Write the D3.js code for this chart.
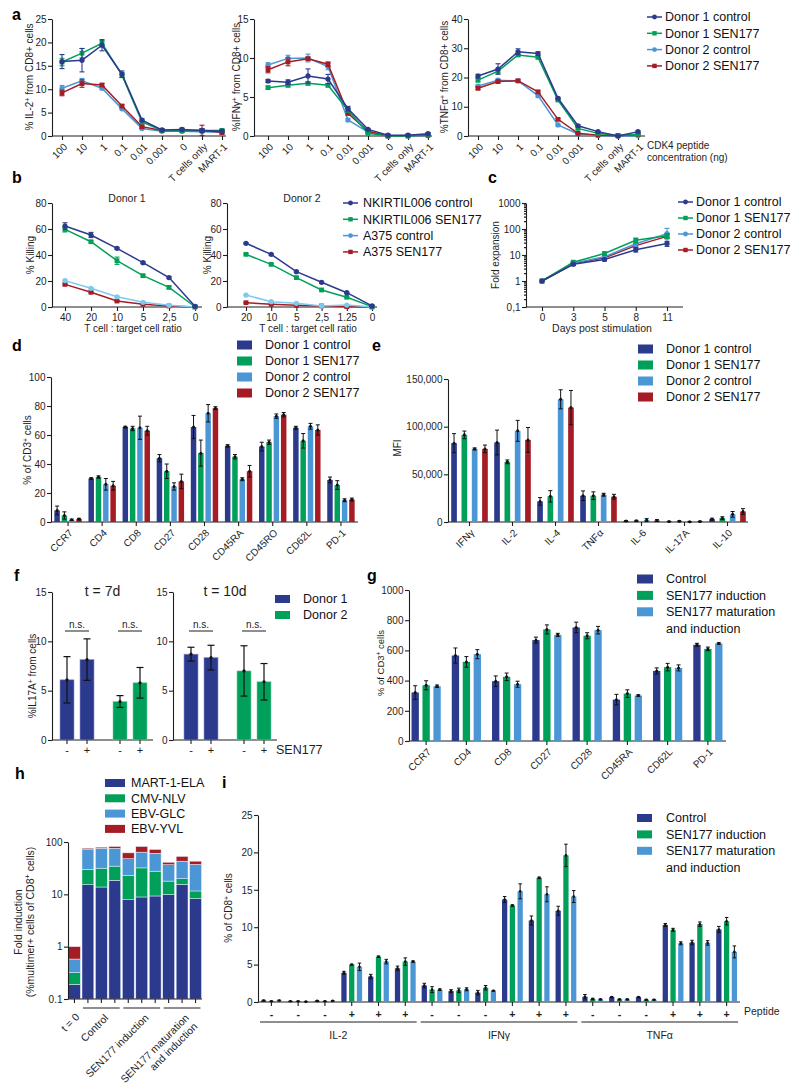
<!DOCTYPE html>
<html><head><meta charset="utf-8">
<script src="https://cdn.jsdelivr.net/npm/d3@7"></script>
<style>body{margin:0;background:#fff;}svg{display:block;}</style>
</head><body>
<svg id="fig" width="800" height="1090"></svg>
<script>
// ================= DATA =================
// Panel a
const aDoses = ["100","10","1","0.1","0.01","0.001","0","T cells only","MART-1"];
const donorSeries = ["Donor 1 control","Donor 1 SEN177","Donor 2 control","Donor 2 SEN177"];
const aIL2 = [
  [15.9,16.2,19.4,13.2,3.4,1.3,1.4,1.2,1.0],
  [15.8,17.7,19.8,13.0,3.0,1.2,1.1,1.2,1.2],
  [10.2,11.8,10.2,5.8,1.6,1.0,1.0,0.9,0.8],
  [9.2,11.2,10.9,6.4,2.0,1.2,1.2,1.2,0.8]];
const aIL2Err = [
  [1.5,2.5,1.2,0.7,0.3,0.2,0.3,0.3,0.4],
  [0.8,1.0,0.6,0.5,0.3,0.2,0.2,0.2,0.2],
  [0.6,0.5,0.3,0.2,0.2,0.1,0.1,0.1,0.1],
  [0.6,0.8,0.3,0.3,0.3,0.2,0.2,1.1,0.5]];
const aIFN = [
  [7.05,6.9,7.7,7.3,3.5,0.85,0.1,0.1,0.3],
  [6.2,6.5,6.75,6.5,3.3,0.35,0.0,0.0,0.2],
  [9.1,9.95,10.0,8.9,2.05,0.5,0.0,0.0,0.05],
  [8.5,9.5,9.9,9.2,2.9,0.6,0.0,0.05,0.1]];
const aIFNErr = [
  [0.2,0.3,0.9,0.6,0.3,0.1,0.05,0.05,0.1],
  [0.2,0.2,0.2,0.2,0.2,0.1,0,0,0.1],
  [0.3,0.4,0.5,0.4,0.2,0.1,0,0,0],
  [0.4,0.5,0.2,0.3,0.2,0.1,0,0,0]];
const aTNF = [
  [20.5,22.9,28.8,28.2,12.9,3.5,1.5,0,1.5],
  [19.1,22.2,27.7,26.9,12.3,2.6,0.9,0.2,0.6],
  [17.1,19.1,18.8,13.8,3.8,0.7,0.2,0,0.1],
  [16.3,18.6,18.9,15.1,5.7,0.9,0.3,0.1,0.5]];
const aTNFErr = [
  [0.6,1.8,1.0,0.6,0.4,0.3,0.2,0.1,0.3],
  [0.6,0.7,0.5,0.5,0.4,0.3,0.1,0.1,0.2],
  [0.4,0.4,0.3,0.6,0.3,0.1,0,0,0],
  [0.4,0.4,0.4,0.4,0.3,0.1,0,0,0.1]];

// Panel b
const bSeries = ["NKIRTIL006 control","NKIRTIL006 SEN177","A375 control","A375 SEN177"];
const bRatios1 = ["40","20","10","5","2,5","0"];
const bRatios2 = ["20","10","5","2,5","1.25","0"];
const bDonor1 = [
  [62.3,55.4,45.1,34.1,22.6,0.5],
  [59.7,50.2,35.6,24.1,15.1,0.2],
  [20.3,14.4,7.9,3.6,1.3,0.0],
  [17.4,11.3,4.6,2.1,0.8,0.0]];
const bDonor1Err = [
  [2.5,2.0,0.8,0.6,0.8,0.3],
  [2.0,0.8,2.8,0.8,1.0,0.3],
  [0.5,0.5,0.5,0.4,0.3,0],
  [0.5,0.5,0.4,0.3,0.3,0]];
const bDonor2 = [
  [49.0,40.5,27.2,19.0,11.0,0.8],
  [40.5,32.8,22.6,13.1,7.5,0.3],
  [9.2,4.1,2.8,0.8,1.5,0.0],
  [3.3,2.1,1.3,0.8,0.3,0.0]];
const bDonor2Err = [
  [0.6,0.6,0.6,0.6,0.5,0.3],
  [0.6,0.6,0.8,0.6,0.5,0.2],
  [0.3,0.3,0.3,0.2,0.2,0],
  [0.3,0.3,0.2,0.2,0.2,0]];

// Panel c
const cDays = ["0","3","5","8","11"];
const cFold = [
  [1,4.4,6.7,16,27.5],
  [1,5.3,11.4,36.7,55],
  [1,4.8,8.5,27,66],
  [1,4.6,7.8,23,52]];
const cFoldErr = [
  [0,0.4,0.8,3,6],
  [0,0.4,1.5,8,12],
  [0,0.4,1.0,6,40],
  [0,0.3,1.0,4,10]];
const cTickValues = [0.1,1,10,100,1000];
const cTickLabels = ["0,1","1","10","100","1000"];

// Panel d
const dCats = ["CCR7","CD4","CD8","CD27","CD28","CD45RA","CD45RO","CD62L","PD-1"];
const dVals = [
  [8,30,65.5,44,65.5,52.5,52,65,29],
  [4.5,31,64.5,35,47.5,45,55,56,25.5],
  [1.5,26,65,24.5,75,29.5,73,66,15],
  [2,25,63,28,78.5,35,74,63.5,15.5]];
const dErr = [
  [3,0.5,0.5,2.5,8,0.8,3,1,2],
  [2.5,0.8,1.5,5,9,1.5,1.5,5,3],
  [0.5,4,8,2.5,6,1,1.5,2,1],
  [0.5,3,3,5,1,4,1.5,3.5,1]];

// Panel e
const eCats = ["IFNγ","IL-2","IL-4","TNFα","IL-6","IL-17A","IL-10"];
const eVals = [
  [82700,83400,21600,27600,1000,500,3000],
  [91400,63100,26900,27600,1200,800,4000],
  [76700,95600,128700,28600,2000,300,8000],
  [76700,86100,120000,26500,1500,600,11000]];
const eErr = [
  [10000,13000,4000,5000,500,300,1000],
  [4000,2000,6000,4000,500,500,1500],
  [1000,11000,10000,1500,1500,300,3000],
  [4000,13000,18000,2500,1000,300,3000]];

// Panel f
const fDonors = ["Donor 1","Donor 2"];
const fTreat = ["-","+"];
const f7Vals = [[6.1,8.15],[3.9,5.8]];
const f7Err = [[2.35,2.1],[0.6,1.55]];
const f10Vals = [[8.7,8.35],[7.0,5.9]];
const f10Err = [[0.7,1.25],[2.55,1.85]];

// Panel g
const gCats = ["CCR7","CD4","CD8","CD27","CD28","CD45RA","CD62L","PD-1"];
const gSeries = ["Control","SEN177 induction","SEN177 maturation\nand induction"];
const gVals = [
  [321,566,396,668,752,274,464,637],
  [369,524,425,739,697,314,489,610],
  [363,575,376,703,734,301,484,646]];
const gErr = [
  [45,50,35,20,35,35,20,10],
  [30,35,25,30,20,25,25,12],
  [8,30,20,10,25,5,20,5]];

// Panel h
const hBars = ["t0","c1","c2","c3","i1","i2","i3","m1","m2","m3"];
const hGroups = ["Control","SEN177 induction","SEN177 maturation\nand induction"];
const hEpitopes = ["MART-1-ELA","CMV-NLV","EBV-GLC","EBV-YVL"];
const hMART = [0.19,15.3,13.8,18.5,7.9,8.9,9.3,9.9,15.5,8.3];
const hCMV  = [0.13,14.6,17.8,16.1,15.1,23.1,18.4,8.0,4.4,3.3];
const hGLC  = [0.26,42.1,44.4,41.4,25.0,32.0,33.3,18.9,23.1,25.7];
const hYVL  = [0.42,4.0,3.6,6.0,14.0,18.0,11.0,4.2,10.0,5.7];
const hTicks = [0.1,1,10,100];

// Panel i
const iCytokines = ["IL-2","IFNγ","TNFα"];
const iPeptide = ["-","-","-","+","+","+"];
const iSeries = ["Control","SEN177 induction","SEN177 maturation\nand induction"];
const iVals = [
  [0.2,0.1,0.15, 3.9,3.4,4.5, 2.2,1.45,1.25, 13.7,10.9,12.2, 0.7,0.65,0.65, 10.3,7.95,9.7],
  [0.1,0.1,0.1, 5.0,6.05,5.4, 1.65,1.55,1.9, 12.9,16.6,19.6, 0.4,0.35,0.3, 9.65,10.4,10.8],
  [0.2,0.05,0.15, 4.7,5.4,5.4, 1.65,1.7,1.5, 14.8,14.4,14.1, 0.35,0.35,0.3, 7.85,7.9,6.7]];
const iErr = [
  [0.05,0.03,0.05, 0.2,0.3,0.3, 0.3,0.2,0.3, 0.4,0.6,0.6, 0.3,0.05,0.05, 0.2,0.3,0.4],
  [0.05,0.03,0.03, 0.05,0.1,0.5, 0.4,0.3,0.3, 0.1,0.1,1.5, 0.1,0.05,0.05, 0.2,0.3,0.5],
  [0.05,0.03,0.05, 0.5,0.3,0.1, 0.1,0.2,0.05, 1.0,1.0,0.8, 0.05,0.05,0.05, 0.2,0.3,0.8]];

// ================= STYLE =================
const FONT = "'Liberation Sans', Arial, Helvetica, sans-serif";
const NAVY = "#2c3a8e", GREEN = "#00a05a", LBLUE = "#4b97d6", RED = "#a51c24", CYAN = "#7ccaf0";
const INK = "#1e1e1e";
const donorColors = [NAVY, GREEN, LBLUE, RED];
const donorShapes = ["circle","square","circle","square"];

const svg = d3.select("#fig").attr("font-family", FONT);
svg.append("rect").attr("width", 800).attr("height", 1090).attr("fill", "#fff");

// ================= HELPERS =================
function styleAxis(a, fs = 10) {
  a.attr("font-family", FONT).attr("font-size", fs);
  a.selectAll("path,line").attr("stroke", INK).attr("stroke-width", 1.1);
  a.selectAll("text").attr("fill", INK);
  return a;
}
function yAxis(g, y, x, ticks, fmt) {
  const a = g.append("g").attr("transform", `translate(${x},0)`)
    .call(d3.axisLeft(y).tickValues(ticks).tickFormat(fmt).tickSize(4).tickSizeOuter(0).tickPadding(1.5));
  return styleAxis(a);
}
function hLine(g, x1, x2, y, w = 1.1) {
  g.append("line").attr("x1", x1).attr("x2", x2).attr("y1", y).attr("y2", y).attr("stroke", INK).attr("stroke-width", w);
}
function xAxisTicks(g, x, y0, rotate, fs = 10, fmt) {
  const ax = d3.axisBottom(x).tickSize(4).tickSizeOuter(0).tickPadding(3);
  if (fmt) ax.tickFormat(fmt);
  const a = g.append("g").attr("transform", `translate(0,${y0})`).call(ax);
  styleAxis(a, fs);
  a.select(".domain").remove();
  if (rotate) {
    a.selectAll("text").attr("text-anchor", "end").attr("x", 0).attr("y", 0).attr("dy", "0.35em")
      .attr("transform", "translate(3,9) rotate(-45)");
  }
  return a;
}
function richText(g, x, y, parts, opts = {}) {
  const t = g.append("text").attr("text-anchor", opts.anchor || "middle").attr("font-size", opts.size || 10).attr("fill", INK);
  if (opts.rotate) t.attr("transform", `translate(${x},${y}) rotate(-90)`);
  else t.attr("x", x).attr("y", y);
  if (opts.dy) t.attr("dy", opts.dy);
  parts.forEach(p => {
    const ts = t.append("tspan").text(p[0]);
    if (p[1]) ts.attr("baseline-shift", "super").attr("font-size", "70%");
  });
  return t;
}
function label(g, x, y, str, size = 10, anchor = "middle", weight = "normal") {
  return g.append("text").attr("x", x).attr("y", y).attr("font-size", size).attr("text-anchor", anchor)
    .attr("font-weight", weight).attr("fill", INK).text(str);
}
function marker(g, shape, x, y, color, s = 2.6) {
  if (shape === "circle") g.append("circle").attr("cx", x).attr("cy", y).attr("r", s).attr("fill", color);
  else g.append("rect").attr("x", x - s + 0.2).attr("y", y - s + 0.2).attr("width", 2 * s - 0.4).attr("height", 2 * s - 0.4).attr("fill", color);
}
function errBar(g, x, yTop, yBot, cap, color, w = 1) {
  g.append("line").attr("x1", x).attr("x2", x).attr("y1", yTop).attr("y2", yBot).attr("stroke", color).attr("stroke-width", w);
  [yTop, yBot].forEach(yy => g.append("line").attr("x1", x - cap / 2).attr("x2", x + cap / 2)
    .attr("y1", yy).attr("y2", yy).attr("stroke", color).attr("stroke-width", w));
}
function panelLetter(l, x, y) {
  svg.append("text").attr("x", x).attr("y", y).attr("font-size", 16).attr("font-weight", "bold").attr("fill", "#000").text(l);
}

function lineChart(o) {
  const g = svg.append("g");
  const y0 = o.y.range()[0];
  const ymin = o.y.domain()[0];
  yAxis(g, o.y, o.axisX, o.yTicks, o.yFmt);
  if (o.minor) {
    const m = g.append("g").attr("transform", `translate(${o.axisX},0)`)
      .call(d3.axisLeft(o.y).tickValues(o.minor).tickFormat("").tickSize(2).tickSizeOuter(0));
    styleAxis(m); m.select(".domain").remove();
  }
  hLine(g, o.axisX, o.axisEnd, y0);
  xAxisTicks(g, o.x, y0, o.rotate);
  o.order.forEach(si => {
    const vals = o.vals[si], errs = o.errs[si], col = o.lineColors[si];
    const pts = o.x.domain().map((d, i) => [o.x(d), o.y(vals[i])]);
    g.append("path").attr("d", d3.line()(pts)).attr("fill", "none").attr("stroke", col).attr("stroke-width", 1.5);
    o.x.domain().forEach((d, i) => {
      if (!errs[i]) return;
      errBar(g, o.x(d), o.y(vals[i] + errs[i]), o.y(Math.max(vals[i] - errs[i], ymin)), 5, col, 1.1);
    });
    pts.forEach(p => marker(g, o.shapes[si], p[0], p[1], col));
  });
  return g;
}
function lineLegend(x, textX, y0, dy, labels, colors, shapes, fs = 12.5) {
  const g = svg.append("g");
  labels.forEach((l, i) => {
    const y = y0 + i * dy;
    g.append("line").attr("x1", x).attr("x2", x + 15).attr("y1", y).attr("y2", y).attr("stroke", colors[i]).attr("stroke-width", 1.5);
    marker(g, shapes[i], x + 7.5, y, colors[i], 2.4);
    g.append("text").attr("x", textX).attr("y", y).attr("dy", "0.35em").attr("font-size", fs).attr("fill", "#111").text(l);
  });
}
function boxLegend(x, w, h, textX, y0, dy, labels, colors, fs = 12.5) {
  const g = svg.append("g");
  let row = 0;
  labels.forEach((l, i) => {
    const y = y0 + row * dy;
    g.append("rect").attr("x", x).attr("y", y - h / 2).attr("width", w).attr("height", h).attr("fill", colors[i]);
    l.split("\n").forEach((line, k) => {
      g.append("text").attr("x", textX).attr("y", y + k * dy).attr("dy", "0.35em").attr("font-size", fs).attr("fill", "#111").text(line);
      row++;
    });
  });
}
function groupedBars(o) {
  const g = svg.append("g");
  const y0 = o.y(0);
  yAxis(g, o.y, o.axisX, o.yTicks, o.yFmt);
  hLine(g, o.axisX, o.axisEnd, y0);
  xAxisTicks(g, o.xg, y0, true);
  o.vals.forEach((vals, si) => {
    o.cats.forEach((c, ci) => {
      const cx = o.xg(c) + o.xg.bandwidth() / 2 + o.xs(si);
      g.append("rect").attr("x", cx).attr("y", o.y(vals[ci])).attr("width", o.xs.bandwidth())
        .attr("height", y0 - o.y(vals[ci])).attr("fill", o.colors[si]);
    });
  });
  o.vals.forEach((vals, si) => {
    o.cats.forEach((c, ci) => {
      const cx = o.xg(c) + o.xg.bandwidth() / 2 + o.xs(si) + o.xs.bandwidth() / 2;
      const e = o.errs[si][ci];
      errBar(g, cx, o.y(vals[ci] + e), o.y(Math.max(0, vals[ci] - e)), o.cap, "#111", 1);
      g.append("circle").attr("cx", cx).attr("cy", o.y(vals[ci])).attr("r", 1.5).attr("fill", "#111");
    });
  });
  return g;
}

// ================= PANEL a =================
panelLetter("a", 12, 20);
{
  const specs = [
    {vals: aIL2, errs: aIL2Err, axisX: 52, axisEnd: 226, xr: [62, 222], max: 25, ticks: [0,5,10,15,20,25],
     lab: [["% IL-2"],["+",1],[" from CD8+ cells"]], labX: 29},
    {vals: aIFN, errs: aIFNErr, axisX: 254, axisEnd: 432, xr: [268, 428], max: 15, ticks: [0,5,10,15],
     lab: [["%IFNγ"],["+",1],[" from CD8+ cells"]], labX: 236},
    {vals: aTNF, errs: aTNFErr, axisX: 468, axisEnd: 645, xr: [478, 638], max: 40, ticks: [0,10,20,30,40],
     lab: [["%TNFα"],["+",1],[" from CD8+ cells"]], labX: 444}
  ];
  specs.forEach(s => {
    const y = d3.scaleLinear().domain([0, s.max]).range([136, 19]);
    const x = d3.scalePoint().domain(aDoses).range(s.xr);
    const g = lineChart({x, y, axisX: s.axisX, axisEnd: s.axisEnd, yTicks: s.ticks, yFmt: d3.format("d"),
      vals: s.vals, errs: s.errs, lineColors: donorColors, shapes: donorShapes, order: [2,3,1,0], rotate: true});
    richText(g, s.labX, 77, s.lab, {rotate: true, dy: "0.35em"});
  });
  label(svg, 647, 149, "CDK4 peptide", 10, "start");
  label(svg, 647, 161, "concentration (ng)", 10, "start");
  lineLegend(647, 665, 17, 16.3, donorSeries, donorColors, donorShapes);
}

// ================= PANEL b =================
panelLetter("b", 12, 183);
{
  const bLineColors = [NAVY, GREEN, CYAN, RED];
  const y = d3.scaleLinear().domain([0, 80]).range([307, 203]);
  const specs = [
    {vals: bDonor1, errs: bDonor1Err, ratios: bRatios1, axisX: 52, axisEnd: 202, xr: [65, 195], title: "Donor 1", tx: 127, labX: 30},
    {vals: bDonor2, errs: bDonor2Err, ratios: bRatios2, axisX: 227, axisEnd: 377, xr: [246, 372], title: "Donor 2", tx: 302, labX: 207}
  ];
  specs.forEach(s => {
    const x = d3.scalePoint().domain(s.ratios).range(s.xr);
    const g = lineChart({x, y, axisX: s.axisX, axisEnd: s.axisEnd, yTicks: [0,20,40,60,80], yFmt: d3.format("d"),
      vals: s.vals, errs: s.errs, lineColors: bLineColors, shapes: donorShapes, order: [3,2,1,0], rotate: false});
    label(g, s.tx, 202, s.title, 10.5);
    label(g, (s.axisX + s.axisEnd) / 2 + 6, 332, "T cell : target cell ratio", 10);
    richText(g, s.labX, 255, [["% Killing"]], {rotate: true, dy: "0.35em"});
  });
  lineLegend(343, 363, 203, 16.3, bSeries, [NAVY, GREEN, LBLUE, RED], donorShapes);
}

// ================= PANEL c =================
panelLetter("c", 488, 183);
{
  const y = d3.scaleLog().domain([0.1, 1000]).range([307, 203]);
  const x = d3.scalePoint().domain(cDays).range([542, 667]);
  const minor = y.ticks().filter(t => !cTickValues.some(v => Math.abs(v - t) < 1e-9));
  const g = lineChart({x, y, axisX: 526, axisEnd: 683, yTicks: cTickValues, yFmt: (d, i) => cTickLabels[i], minor,
    vals: cFold, errs: cFoldErr, lineColors: donorColors, shapes: donorShapes, order: [3,2,1,0], rotate: false});
  label(g, 602, 332, "Days post stimulation", 10.5);
  richText(g, 495, 255, [["Fold expansion"]], {rotate: true, dy: "0.35em"});
  lineLegend(678, 696, 202, 16, donorSeries, donorColors, donorShapes);
}

// ================= PANEL d =================
panelLetter("d", 12, 351);
{
  const y = d3.scaleLinear().domain([0, 100]).range([522, 377]);
  const xg = d3.scaleBand().domain(dCats).range([51, 358]);
  const xs = d3.scaleBand().domain(d3.range(dVals.length)).range([-13.7, 13.7]).paddingInner(0.25);
  const g = groupedBars({cats: dCats, vals: dVals, errs: dErr, colors: donorColors, xg, xs, y,
    axisX: 51, axisEnd: 358, yTicks: [0,20,40,60,80,100], yFmt: d3.format("d"), cap: 4});
  richText(g, 27, 450, [["% of CD3"],["+",1],[" cells"]], {rotate: true, dy: "0.35em"});
  boxLegend(237, 15, 9, 265, 345, 16, donorSeries, donorColors);
}

// ================= PANEL e =================
panelLetter("e", 372, 351);
{
  const y = d3.scaleLinear().domain([0, 150000]).range([522, 379]);
  const xg = d3.scaleBand().domain(eCats).range([448, 749]);
  const xs = d3.scaleBand().domain(d3.range(eVals.length)).range([-18.3, 18.3]).paddingInner(0.45);
  const g = groupedBars({cats: eCats, vals: eVals, errs: eErr, colors: donorColors, xg, xs, y,
    axisX: 448, axisEnd: 748, yTicks: [0,50000,100000,150000], yFmt: d3.format(","), cap: 4});
  label(g, 397, 448, "MFI", 10).attr("transform", "rotate(-90,397,448)").attr("dy", "0.35em");
  boxLegend(638, 15, 9, 666, 349, 16, donorSeries, donorColors);
}

// ================= PANEL f =================
panelLetter("f", 14, 581);
{
  const y = d3.scaleLinear().domain([0, 15]).range([740, 592]);
  const fColors = [NAVY, GREEN];
  const specs = [
    {vals: f7Vals, errs: f7Err, axisX: 52, axisEnd: 153, range: [50.5, 156.5], title: "t = 7d", labX: 32},
    {vals: f10Vals, errs: f10Err, axisX: 173, axisEnd: 277, range: [174.5, 280.5], title: "t = 10d"}
  ];
  specs.forEach(s => {
    const g = svg.append("g");
    const xo = d3.scaleBand().domain(fDonors).range(s.range);
    const xi = d3.scaleBand().domain(fTreat).range([-17, 17]).paddingInner(0.3);
    yAxis(g, y, s.axisX, [0,5,10,15], d3.format("d"));
    hLine(g, s.axisX, s.axisEnd, y(0));
    fDonors.forEach((dn, di) => {
      const centers = fTreat.map(t => xo(dn) + xo.bandwidth() / 2 + xi(t) + xi.bandwidth() / 2);
      fTreat.forEach((t, ti) => {
        const v = s.vals[di][ti], e = s.errs[di][ti], cx = centers[ti];
        g.append("rect").attr("x", cx - xi.bandwidth() / 2).attr("y", y(v)).attr("width", xi.bandwidth())
          .attr("height", y(0) - y(v)).attr("fill", fColors[di]).attr("stroke", di === 0 ? "#8e95c8" : "#7fd0a8").attr("stroke-width", 0.6);
        errBar(g, cx, y(v + e), y(Math.max(0, v - e)), 7, "#111", 1.2);
        g.append("circle").attr("cx", cx).attr("cy", y(v)).attr("r", 1.6).attr("fill", "#111");
        g.append("line").attr("x1", cx).attr("x2", cx).attr("y1", y(0)).attr("y2", y(0) + 4).attr("stroke", INK).attr("stroke-width", 1.1);
        label(g, cx, 754, t, 11);
      });
      const mid = (centers[0] + centers[1]) / 2;
      label(g, mid, 627.5, "n.s.", 10);
      hLine(g, mid - 12, mid + 12, 631, 1);
    });
    label(g, (s.axisX + s.axisEnd) / 2, 596, s.title, 14);
    if (s.labX) richText(g, s.labX, 676, [["%IL17A"],["+",1],[" from cells"]], {rotate: true, dy: "0.35em"});
  });
  boxLegend(275, 15, 8, 303, 599, 16, fDonors, fColors);
  label(svg, 276, 754, "SEN177", 12.5, "start");
}

// ================= PANEL g =================
panelLetter("g", 367, 581);
{
  const gColors = [NAVY, GREEN, LBLUE];
  const y = d3.scaleLinear().domain([0, 1000]).range([741, 590]);
  const xg = d3.scaleBand().domain(gCats).range([406, 728]);
  const xs = d3.scaleBand().domain(d3.range(gVals.length)).range([-14.6, 14.6]).paddingInner(0.33);
  const g = groupedBars({cats: gCats, vals: gVals, errs: gErr, colors: gColors, xg, xs, y,
    axisX: 409, axisEnd: 726, yTicks: [0,200,400,600,800,1000], yFmt: d3.format("d"), cap: 4});
  richText(g, 381, 663, [["% of CD3"],["+",1],[" cells"]], {rotate: true, dy: "0.35em", size: 9.5});
  boxLegend(637, 16, 9, 666, 579, 16.4, gSeries, gColors);
}

// ================= PANEL h =================
panelLetter("h", 15, 779);
{
  const hColors = [NAVY, GREEN, LBLUE, RED];
  const g = svg.append("g");
  const y = d3.scaleLog().domain([0.1, 100]).range([999, 842]);
  const x = d3.scaleBand().domain(hBars).range([68, 202]).paddingInner(0.12).paddingOuter(0.04);
  const rows = hBars.map((b, i) => ({id: b, [hEpitopes[0]]: hMART[i], [hEpitopes[1]]: hCMV[i], [hEpitopes[2]]: hGLC[i], [hEpitopes[3]]: hYVL[i]}));
  const stack = d3.stack().keys(hEpitopes)(rows);
  stack.forEach((layer, li) => {
    layer.forEach(seg => {
      const yt = y(seg[1]), yb = y(Math.max(seg[0], 0.1));
      g.append("rect").attr("x", x(seg.data.id)).attr("y", yt).attr("width", x.bandwidth())
        .attr("height", yb - yt).attr("fill", hColors[li]).attr("stroke", "#e8eef8").attr("stroke-width", 0.5);
    });
  });
  yAxis(g, y, 68, hTicks, d3.format("~g"));
  hLine(g, 68, 202, 999);
  hBars.forEach(b => {
    const cx = x(b) + x.bandwidth() / 2;
    g.append("line").attr("x1", cx).attr("x2", cx).attr("y1", 999).attr("y2", 1003).attr("stroke", INK).attr("stroke-width", 1.1);
  });
  const t0x = x(hBars[0]) + x.bandwidth() / 2;
  g.append("text").attr("text-anchor", "end").attr("font-size", 10.5).attr("fill", INK).attr("dy", "0.35em")
    .attr("transform", `translate(${t0x + 3},1015) rotate(-45)`).text("t = 0");
  hGroups.forEach((grp, gi) => {
    const ids = hBars.slice(1 + gi * 3, 4 + gi * 3);
    const x1 = x(ids[0]) + 1, x2 = x(ids[2]) + x.bandwidth() - 1;
    hLine(g, x1, x2, 1008, 1);
    const cx = x(ids[1]) + x.bandwidth() / 2;
    const t = g.append("text").attr("text-anchor", "end").attr("font-size", 10.5).attr("fill", INK)
      .attr("transform", `translate(${cx + 5},1016) rotate(-45)`);
    grp.split("\n").forEach((ln, k) => t.append("tspan").attr("x", 0).attr("dy", k === 0 ? "0.35em" : "1.15em").text(ln));
  });
  const yl = g.append("text").attr("text-anchor", "middle").attr("font-size", 10.5).attr("fill", INK)
    .attr("transform", "translate(22,922) rotate(-90)");
  yl.append("tspan").attr("x", 0).attr("dy", 0).text("Fold induction");
  const l2 = yl.append("tspan").attr("x", 0).attr("dy", "1.15em");
  l2.append("tspan").text("(%multimer+ cells of CD8");
  l2.append("tspan").attr("baseline-shift", "super").attr("font-size", "70%").text("+");
  l2.append("tspan").text(" cells)");
  boxLegend(105, 20, 8, 131, 783, 15.3, hEpitopes, hColors);
}

// ================= PANEL i =================
panelLetter("i", 222, 788);
{
  const iColors = [NAVY, GREEN, LBLUE];
  const g = svg.append("g");
  const groups = iCytokines.flatMap(c => iPeptide.map((p, k) => ({id: c + k, cyt: c, pep: p})));
  const y = d3.scaleLinear().domain([0, 25]).range([1002, 815]);
  const xg = d3.scaleBand().domain(groups.map(d => d.id)).range([258, 740]);
  const xs = d3.scaleBand().domain(d3.range(iVals.length)).range([-10.4, 10.4]).paddingInner(0.32);
  yAxis(g, y, 258, [0,5,10,15,20,25], d3.format("d"));
  hLine(g, 258, 740, 1002);
  iVals.forEach((vals, si) => {
    groups.forEach((gr, gi) => {
      const bx = xg(gr.id) + xg.bandwidth() / 2 + xs(si);
      g.append("rect").attr("x", bx).attr("y", y(vals[gi])).attr("width", xs.bandwidth())
        .attr("height", 1002 - y(vals[gi])).attr("fill", iColors[si]);
    });
  });
  iVals.forEach((vals, si) => {
    groups.forEach((gr, gi) => {
      const cx = xg(gr.id) + xg.bandwidth() / 2 + xs(si) + xs.bandwidth() / 2;
      const e = iErr[si][gi];
      errBar(g, cx, y(vals[gi] + e), y(Math.max(0, vals[gi] - e)), 3.5, "#111", 1);
      g.append("circle").attr("cx", cx).attr("cy", y(vals[gi])).attr("r", 1.3).attr("fill", "#111");
    });
  });
  groups.forEach(gr => {
    const cx = xg(gr.id) + xg.bandwidth() / 2;
    g.append("line").attr("x1", cx).attr("x2", cx).attr("y1", 1002).attr("y2", 1006).attr("stroke", INK).attr("stroke-width", 1.1);
    label(g, cx, 1017.5, gr.pep, 10.5, "middle", "bold");
  });
  iCytokines.forEach(c => {
    const ids = groups.filter(d => d.cyt === c).map(d => d.id);
    const x1 = xg(ids[0]) + 2, x2 = xg(ids[ids.length - 1]) + xg.bandwidth() - 2;
    hLine(g, x1, x2, 1022, 1);
    label(g, (x1 + x2) / 2, 1039, c, 10.5);
  });
  label(g, 744, 1014.5, "Peptide", 10.5, "start");
  richText(g, 228, 908, [["% of CD8"],["+",1],[" cells"]], {rotate: true, dy: "0.35em"});
  boxLegend(637, 15, 8, 666, 818, 16.4, iSeries, iColors);
}
</script>
</body></html>
